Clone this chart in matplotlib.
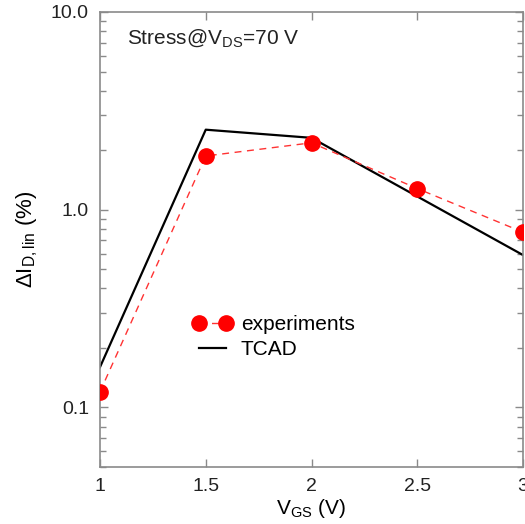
import matplotlib
matplotlib.use("Agg")
import matplotlib.pyplot as plt
from matplotlib.ticker import FixedLocator, LogLocator, NullFormatter, FixedFormatter

plt.rcParams['font.family'] = ['Liberation Sans', 'DejaVu Sans']

vgs_exp = [1.0, 1.5, 2.0, 2.5, 3.0]
dI_exp = [0.12, 1.87, 2.18, 1.28, 0.77]
vgs_tcad = [1.0, 1.5, 2.0, 3.0]
dI_tcad = [0.16, 2.54, 2.31, 0.59]
xticks = [1, 1.5, 2, 2.5, 3]
xticklabels = ['1', '1.5', '2', '2.5', '3']
yticks = [0.1, 1.0, 10.0]
yticklabels = ['0.1', '1.0', '10.0']

fig = plt.figure(figsize=(5.25, 5.24), dpi=100)
ax = fig.add_axes([100/525, 1-467/524, 423/525, 455/524])

ax.plot(vgs_exp, dI_exp, color='#ff3333', ls=(0, (5, 4)), lw=1.0,
        marker='o', ms=11, mfc='red', mec='red', label='experiments', zorder=3)
ax.plot(vgs_tcad, dI_tcad, color='black', lw=1.6, label='TCAD', zorder=2)

ax.set_yscale('log')
ax.set_ylim(0.05, 10)
ax.set_xlim(1, 3)
ax.xaxis.set_major_locator(FixedLocator(xticks))
ax.xaxis.set_major_formatter(FixedFormatter(xticklabels))
ax.yaxis.set_major_locator(FixedLocator(yticks))
ax.yaxis.set_major_formatter(FixedFormatter(yticklabels))
ax.yaxis.set_minor_locator(LogLocator(base=10, subs=range(2, 10)))
ax.yaxis.set_minor_formatter(NullFormatter())

gray = '#8a8a8a'
for s in ax.spines.values():
    s.set_color(gray)
    s.set_linewidth(1.2)
ax.tick_params(which='both', direction='in', top=True, right=True, color=gray,
               labelsize=14, labelcolor='#222222')
ax.tick_params(which='major', length=6, width=1, pad=8)
ax.tick_params(which='minor', length=4, width=1)

ax.set_xlabel('V$_{\\mathregular{GS}}$ (V)', fontsize=15, labelpad=1)
ax.set_ylabel('ΔI$_{\\mathregular{D,lin}}$ (%)', fontsize=16, labelpad=8)

ax.text(0.063, 0.94, 'Stress@V$_{\\mathregular{DS}}$=70 V', transform=ax.transAxes,
        fontsize=15, va='center', ha='left', color='#222222')

ax.legend(loc='center left', bbox_to_anchor=(0.2, 0.285), frameon=False,
          fontsize=15, numpoints=2, handlelength=1.9, handletextpad=0.4,
          labelspacing=0.3, borderaxespad=0)

fig.savefig('out.png', dpi=100)
